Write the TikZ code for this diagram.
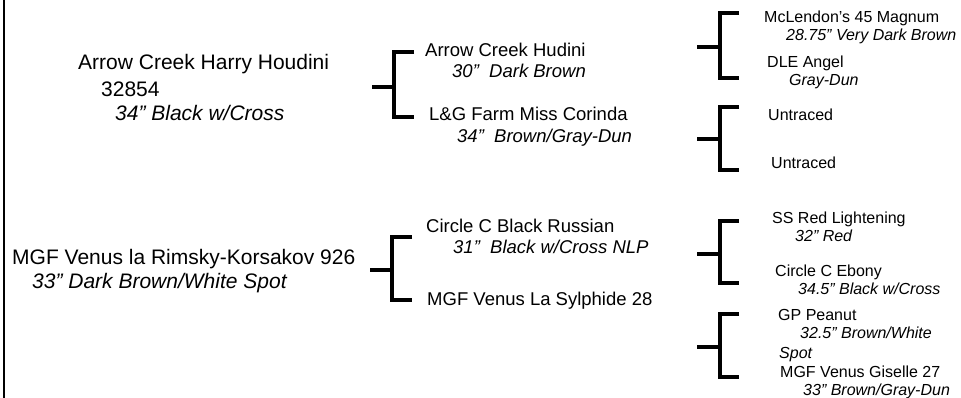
\documentclass[tikz,border=0pt]{standalone}
\usepackage{fontspec}
\setmainfont{Liberation Sans}
\begin{document}
\begin{tikzpicture}[x=1pt,y=-1pt,
  big/.style={anchor=base west, inner sep=0pt, font=\fontsize{21}{25}\selectfont},
  mid/.style={anchor=base west, inner sep=0pt, font=\fontsize{18.5}{22}\selectfont},
  small/.style={anchor=base west, inner sep=0pt, font=\fontsize{16}{19}\selectfont},
  bracket/.style={line width=4pt, line cap=butt, line join=miter},
  border/.style={line width=2.7pt}]
\useasboundingbox (0,0) rectangle (961,398);
\fill[white] (0,0) rectangle (961,398);
% left border
\coordinate (bt) at (4,0);
\coordinate (bb) at (4,398);
\draw[border] (bt) -- (bb);
% generation 1
\node[big] (n1) at (78,70) {Arrow Creek Harry Houdini};
\node[big] (n1b) at (101,97) {32854};
\node[big] (n1c) at (115,121) {\itshape 34” Black w/Cross};
\node[big] (n2) at (12,264) {MGF Venus la Rimsky-Korsakov 926};
\node[big] (n2b) at (32,288) {\itshape 33” Dark Brown/White Spot};
% generation 2
\node[mid] (m1) at (425,57) {Arrow Creek Hudini};
\node[mid] (m1b) at (452,78) {\itshape 30”\ \ Dark Brown};
\node[mid] (m2) at (429,121) {L\&G Farm Miss Corinda};
\node[mid] (m2b) at (457,143) {\itshape 34”\ \ Brown/Gray-Dun};
\node[mid] (m3) at (426,233) {Circle C Black Russian};
\node[mid] (m3b) at (453,254) {\itshape 31”\ \ Black w/Cross NLP};
\node[mid] (m4) at (427,305) {MGF Venus La Sylphide 28};
% generation 3
\node[small] (s1) at (764,23) {McLendon’s 45 Magnum};
\node[small] (s1b) at (786,41) {\itshape 28.75” Very Dark Brown};
\node[small] (s2) at (767,68) {DLE Angel};
\node[small] (s2b) at (789,86) {\itshape Gray-Dun};
\node[small] (s3) at (768,121) {Untraced};
\node[small] (s4) at (771,169) {Untraced};
\node[small] (s5) at (772,223) {SS Red Lightening};
\node[small] (s5b) at (795,241) {\itshape 32” Red};
\node[small] (s6) at (775,276) {Circle C Ebony};
\node[small] (s6b) at (798,294) {\itshape 34.5” Black w/Cross};
\node[small] (s7) at (778,320) {GP Peanut};
\node[small] (s7b) at (800,338) {\itshape 32.5” Brown/White};
\node[small] (s7c) at (779,358) {\itshape Spot};
\node[small] (s8) at (780,377) {MGF Venus Giselle 27};
\node[small] (s8b) at (803,395) {\itshape 33” Brown/Gray-Dun};
% brackets: stub start, top arm end, bottom arm end
% bracket 1
\coordinate (a1) at (372,87);  \coordinate (v1) at (394,87);
\coordinate (t1) at (414,52);  \coordinate (b1) at (414,117);
\draw[bracket] (a1) -- (v1);
\draw[bracket] (t1) -- (t1 -| v1) -- (b1 -| v1) -- (b1);
% bracket 4
\coordinate (a4) at (370,270); \coordinate (v4) at (392,270);
\coordinate (t4) at (412,237); \coordinate (b4) at (412,300);
\draw[bracket] (a4) -- (v4);
\draw[bracket] (t4) -- (t4 -| v4) -- (b4 -| v4) -- (b4);
% bracket 2
\coordinate (a2) at (697,47);  \coordinate (v2) at (720,47);
\coordinate (t2) at (739,13);  \coordinate (b2) at (739,78);
\draw[bracket] (a2) -- (v2);
\draw[bracket] (t2) -- (t2 -| v2) -- (b2 -| v2) -- (b2);
% bracket 3
\coordinate (a3) at (697,139); \coordinate (v3) at (720,139);
\coordinate (t3) at (739,107); \coordinate (b3) at (739,170);
\draw[bracket] (a3) -- (v3);
\draw[bracket] (t3) -- (t3 -| v3) -- (b3 -| v3) -- (b3);
% bracket 5
\coordinate (a5) at (697,254); \coordinate (v5) at (720,254);
\coordinate (t5) at (739,221); \coordinate (b5) at (739,283);
\draw[bracket] (a5) -- (v5);
\draw[bracket] (t5) -- (t5 -| v5) -- (b5 -| v5) -- (b5);
% bracket 6
\coordinate (a6) at (697,347); \coordinate (v6) at (720,347);
\coordinate (t6) at (739,314); \coordinate (b6) at (739,377);
\draw[bracket] (a6) -- (v6);
\draw[bracket] (t6) -- (t6 -| v6) -- (b6 -| v6) -- (b6);
\end{tikzpicture}
\end{document}
